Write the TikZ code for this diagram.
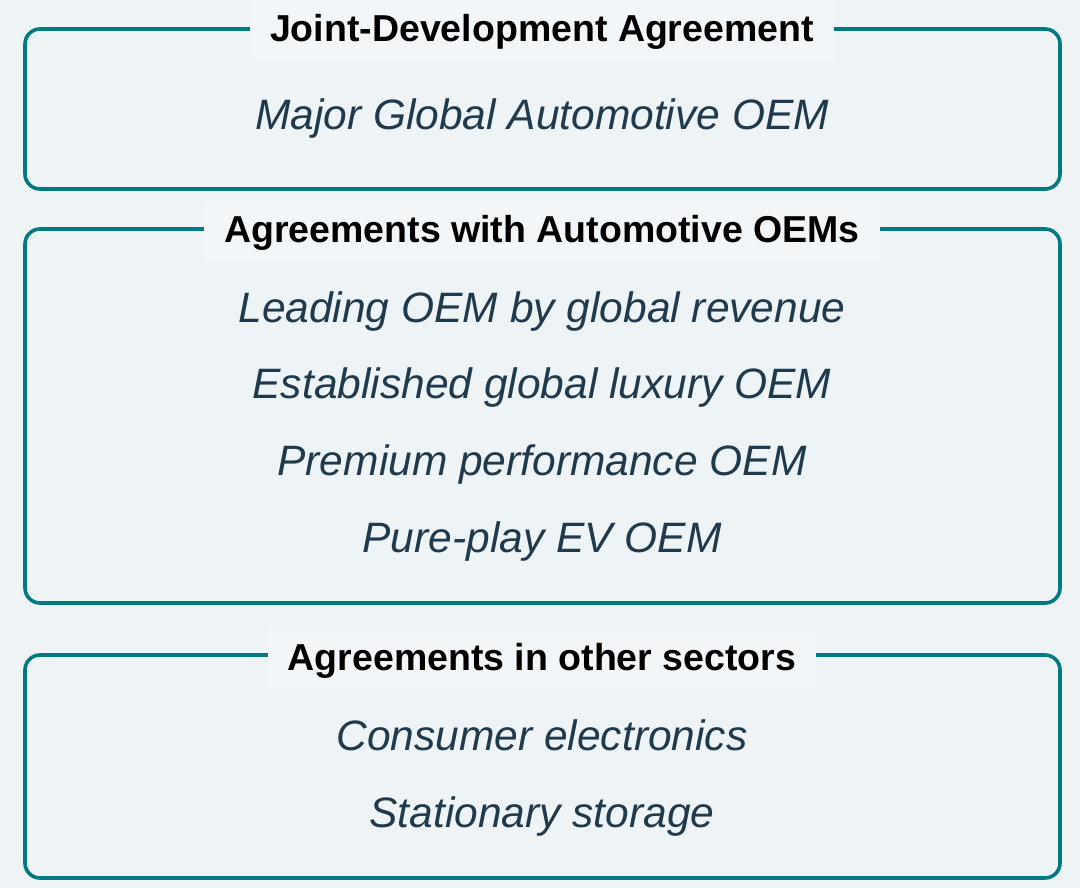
\documentclass[tikz,border=0pt]{standalone}
\usepackage{fontspec}
\setmainfont{Liberation Sans}
\definecolor{bgc}{HTML}{EEF3F6}
\definecolor{labbg}{HTML}{F2F6F9}
\definecolor{teal}{HTML}{007A80}
\definecolor{itxt}{HTML}{1E3A4C}
\begin{document}
\begin{tikzpicture}[x=1pt,y=-1pt,
  frame/.style={draw=teal,line width=3.6pt,rounded corners=15pt},
  title/.style={fill=labbg,text=black,font=\fontsize{37.5}{40}\selectfont\bfseries,inner xsep=20pt,inner ysep=10pt,text height=30pt,text depth=8pt,anchor=base},
  entry/.style={text=itxt,font=\fontsize{42.5}{48}\selectfont\itshape,anchor=base,inner sep=0pt}]
\fill[bgc] (0,0) rectangle (1080,888);
\useasboundingbox (0,0) rectangle (1080,888);
% box 1
\draw[frame] (25,29) rectangle (1060,189);
\node[title] (t1) at (542,42) {Joint-Development Agreement};
\node[entry] (e11) at (542,130) {Major Global Automotive OEM};
% box 2
\draw[frame] (25,229) rectangle (1060,603);
\node[title] (t2) at (542,242) {Agreements with Automotive OEMs};
\node[entry] (e21) at (542,322) {Leading OEM by global revenue};
\node[entry] (e22) at (542,398) {Established global luxury OEM};
\node[entry] (e23) at (542,475) {Premium performance OEM};
\node[entry] (e24) at (542,552) {Pure-play EV OEM};
% box 3
\draw[frame] (25,655) rectangle (1060,878);
\node[title] (t3) at (542,670) {Agreements in other sectors};
\node[entry] (e31) at (542,750) {Consumer electronics};
\node[entry] (e32) at (542,827) {Stationary storage};
\end{tikzpicture}
\end{document}
